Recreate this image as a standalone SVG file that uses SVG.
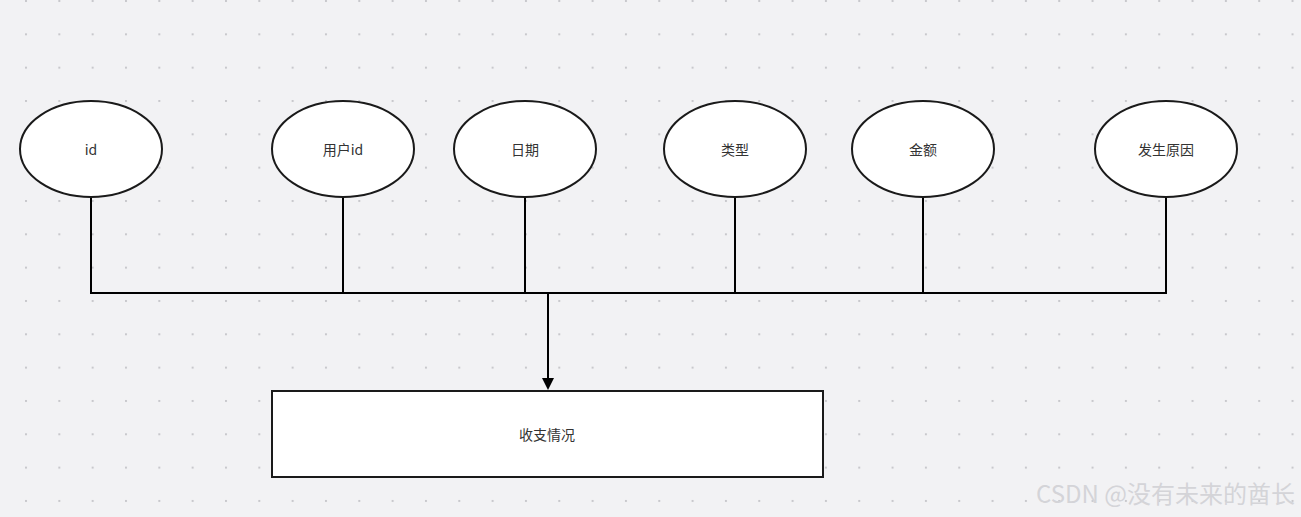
<svg xmlns="http://www.w3.org/2000/svg" width="1301" height="517" viewBox="0 0 1301 517">
<style>
.n{fill:#fff;stroke:#1a1a1a;stroke-width:2}
.t{font-family:"Noto Sans CJK SC","Noto Sans",sans-serif;font-size:14px;fill:#333;text-anchor:middle;dominant-baseline:central}
.c{fill:none;stroke:#000;stroke-width:2}
</style>
<defs>
<pattern id="g" x="25" y="0" width="33.33" height="33.33" patternUnits="userSpaceOnUse"><rect x="0" y="0" width="2" height="2" fill="#c8c8cc"/></pattern>
</defs>
<rect width="1301" height="517" fill="#f2f2f4"/>
<rect width="1301" height="517" fill="url(#g)"/>
<g id="connectors">
<path class="c" d="M91,197V293H1166V197M343,197V293M525,197V293M735,197V293M923,197V293"/>
<path class="c" stroke-width="2.5" d="M548,293V380"/>
<path d="M542,378L554,378L548,390Z" fill="#000"/>
</g>
<g id="n1"><ellipse class="n" cx="91" cy="149" rx="71" ry="48"/><text class="t" x="91" y="149">id</text></g>
<g id="n2"><ellipse class="n" cx="343" cy="149" rx="71" ry="48"/><text class="t" x="343" y="149">用户id</text></g>
<g id="n3"><ellipse class="n" cx="525" cy="149" rx="71" ry="48"/><text class="t" x="525" y="149">日期</text></g>
<g id="n4"><ellipse class="n" cx="735" cy="149" rx="71" ry="48"/><text class="t" x="735" y="149">类型</text></g>
<g id="n5"><ellipse class="n" cx="923" cy="149" rx="71" ry="48"/><text class="t" x="923" y="149">金额</text></g>
<g id="n6"><ellipse class="n" cx="1166" cy="149" rx="71" ry="48"/><text class="t" x="1166" y="149">发生原因</text></g>
<g id="n7"><rect class="n" x="272" y="391" width="551" height="86"/><text class="t" x="547" y="434">收支情况</text></g>
<text x="1295" y="503" style="font-family:'Noto Sans CJK SC',sans-serif;font-size:24px;fill:#d4d4d8;text-anchor:end">CSDN @没有未来的酋长</text>
</svg>
